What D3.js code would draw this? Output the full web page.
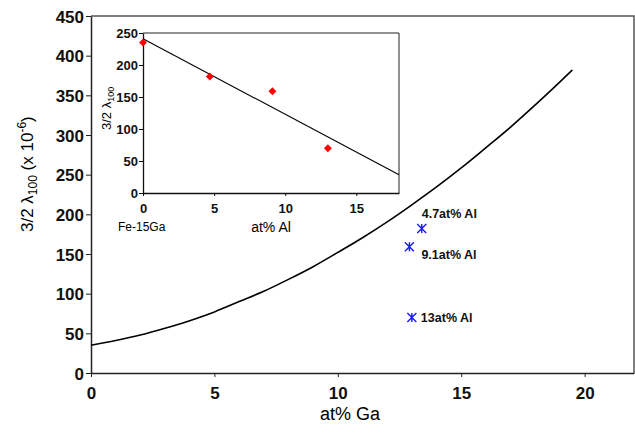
<!DOCTYPE html>
<html>
<head>
<meta charset="utf-8">
<script src="https://cdn.jsdelivr.net/npm/d3@7"></script>
<style>
  body { margin: 0; background: #fff; }
  text { font-family: "Liberation Sans", Arial, sans-serif; }
</style>
</head>
<body>
<svg id="chart" width="635" height="433"></svg>
<script>
// main curve
const curveGa     = [0, 1, 2, 3, 4, 5, 6, 7, 8, 9, 10, 11, 12, 13, 14, 15, 16, 17, 18, 19, 19.5];
const curveLambda = [35, 41, 48, 56.5, 66, 77, 90, 103, 118, 134, 152, 170.5, 190.5, 212, 234.5, 258.5, 284, 310, 338, 367, 382];

// Fe-Ga-Al alloys (blue stars)
const alloyGa     = [13.4, 12.9, 13.0];
const alloyLambda = [182, 159, 70];
const alloyLabels = ["4.7at% Al", "9.1at% Al", "13at% Al"];

// inset: Fe-15Ga with Al
const insetAl     = [0, 4.7, 9.1, 13];
const insetLambda = [235, 182, 159, 70];
const fitAl       = [0, 18];
const fitLambda   = [241, 28.6];

const mainXTicks  = [0, 5, 10, 15, 20];
const mainYTicks  = [0, 50, 100, 150, 200, 250, 300, 350, 400, 450];
const insetXTicks = [0, 5, 10, 15];
const insetYTicks = [0, 50, 100, 150, 200, 250];

const svg = d3.select("#chart");

//main plot
const x = d3.scaleLinear().domain([0, 22]).range([91, 634]);
const y = d3.scaleLinear().domain([0, 450]).range([373, 16]);

// top / right frame
svg.append("path")
    .attr("d", `M${x(0)},${y(450)}H${x(22)}V${y(0)}`)
    .attr("fill", "none")
    .attr("stroke", "#555")
    .attr("stroke-width", 1.5);

const xAxis = svg.append("g")
    .attr("transform", `translate(0,${y(0)})`)
    .call(d3.axisBottom(x).tickValues(mainXTicks).tickSize(4).tickSizeOuter(0));
const yAxis = svg.append("g")
    .attr("transform", `translate(${x(0)},0)`)
    .call(d3.axisLeft(y).tickValues(mainYTicks).tickSize(5).tickSizeOuter(0));

[xAxis, yAxis].forEach(function (g) {
    g.select(".domain").attr("stroke", "#222").attr("stroke-width", 1.5);
    g.selectAll(".tick line").attr("stroke", "#222");
    g.selectAll("text")
        .attr("font-family", "Liberation Sans, Arial, sans-serif")
        .attr("font-size", 17)
        .attr("font-weight", "bold")
        .attr("fill", "#111");
});
xAxis.selectAll("text").attr("dy", "1.1em");
yAxis.selectAll("text").attr("x", -7).attr("dy", "0.36em");

// axis titles
svg.append("text")
    .attr("x", 350).attr("y", 420)
    .attr("text-anchor", "middle")
    .attr("font-size", 18)
    .text("at% Ga");

const yTitle = svg.append("text")
    .attr("transform", "translate(33,232) rotate(-90)")
    .attr("font-size", 17);
yTitle.append("tspan").text("3/2 \u03bb");
yTitle.append("tspan").attr("font-size", 12).attr("dy", 4).text("100");
yTitle.append("tspan").attr("dy", -4).text(" (x 10");
yTitle.append("tspan").attr("font-size", 12).attr("dy", -7).text("-6");
yTitle.append("tspan").attr("dy", 7).text(")");

// curve
const line = d3.line()
    .x(function (d, i) { return x(curveGa[i]); })
    .y(function (d) { return y(d); })
    .curve(d3.curveMonotoneX);
svg.append("path")
    .datum(curveLambda)
    .attr("d", line)
    .attr("fill", "none")
    .attr("stroke", "#000")
    .attr("stroke-width", 1.6);

// blue stars
const star = 4.5;
const stars = svg.append("g").selectAll("g")
    .data(alloyLambda)
    .enter()
    .append("g")
    .attr("transform", function (d, i) { return `translate(${x(alloyGa[i])},${y(d)})`; });
stars.append("path")
    .attr("d", `M0,${-star}V${star}M${-star},${-star}L${star},${star}M${-star},${star}L${star},${-star}`)
    .attr("stroke", "#1a1aff")
    .attr("stroke-width", 1.4);

const labelOffsets = [[0, -11], [12, 12], [9, 5]];
svg.append("g").selectAll("text")
    .data(alloyLabels)
    .enter()
    .append("text")
    .attr("x", function (d, i) { return x(alloyGa[i]) + labelOffsets[i][0]; })
    .attr("y", function (d, i) { return y(alloyLambda[i]) + labelOffsets[i][1]; })
    .attr("font-size", 12.5)
    .attr("font-weight", "bold")
    .attr("fill", "#111")
    .text(function (d) { return d; });

//inset
const ix = d3.scaleLinear().domain([0, 18]).range([143, 399]);
const iy = d3.scaleLinear().domain([0, 250]).range([193, 33]);

svg.append("rect")
    .attr("x", ix(0)).attr("y", iy(250))
    .attr("width", ix(18) - ix(0)).attr("height", iy(0) - iy(250))
    .attr("fill", "#fff");
svg.append("path")
    .attr("d", `M${ix(0)},${iy(250)}H${ix(18)}V${iy(0)}`)
    .attr("fill", "none")
    .attr("stroke", "#222")
    .attr("stroke-width", 1);

const ixAxis = svg.append("g")
    .attr("transform", `translate(0,${iy(0)})`)
    .call(d3.axisBottom(ix).tickValues(insetXTicks).tickSize(3).tickSizeOuter(0));
const iyAxis = svg.append("g")
    .attr("transform", `translate(${ix(0)},0)`)
    .call(d3.axisLeft(iy).tickValues(insetYTicks).tickSize(4).tickSizeOuter(0));
[ixAxis, iyAxis].forEach(function (g) {
    g.select(".domain").attr("stroke", "#111").attr("stroke-width", 1.3);
    g.selectAll(".tick line").attr("stroke", "#111");
    g.selectAll("text")
        .attr("font-family", "Liberation Sans, Arial, sans-serif")
        .attr("font-size", 13)
        .attr("font-weight", "bold")
        .attr("fill", "#111");
});
ixAxis.selectAll("text").attr("dy", "1.05em");
iyAxis.selectAll("text").attr("x", -5).attr("dy", "0.36em");

svg.append("text")
    .attr("x", 118).attr("y", 231)
    .attr("font-size", 12)
    .text("Fe-15Ga");
svg.append("text")
    .attr("x", 271).attr("y", 232)
    .attr("text-anchor", "middle")
    .attr("font-size", 14)
    .text("at% Al");

const iyTitle = svg.append("text")
    .attr("transform", "translate(111,130) rotate(-90)")
    .attr("font-size", 13);
iyTitle.append("tspan").text("3/2 \u03bb");
iyTitle.append("tspan").attr("font-size", 9).attr("dy", 3).text("100");

// fit line
const fitLine = d3.line()
    .x(function (d, i) { return ix(fitAl[i]); })
    .y(function (d) { return iy(d); });
svg.append("path")
    .datum(fitLambda)
    .attr("d", fitLine)
    .attr("stroke", "#000")
    .attr("stroke-width", 1.1)
    .attr("fill", "none");

// red diamonds
svg.append("g").selectAll("path")
    .data(insetLambda)
    .enter()
    .append("path")
    .attr("d", d3.symbol().type(d3.symbolDiamond2).size(40))
    .attr("transform", function (d, i) { return `translate(${ix(insetAl[i])},${iy(d)})`; })
    .attr("fill", "#ff0000");
</script>
</body>
</html>
